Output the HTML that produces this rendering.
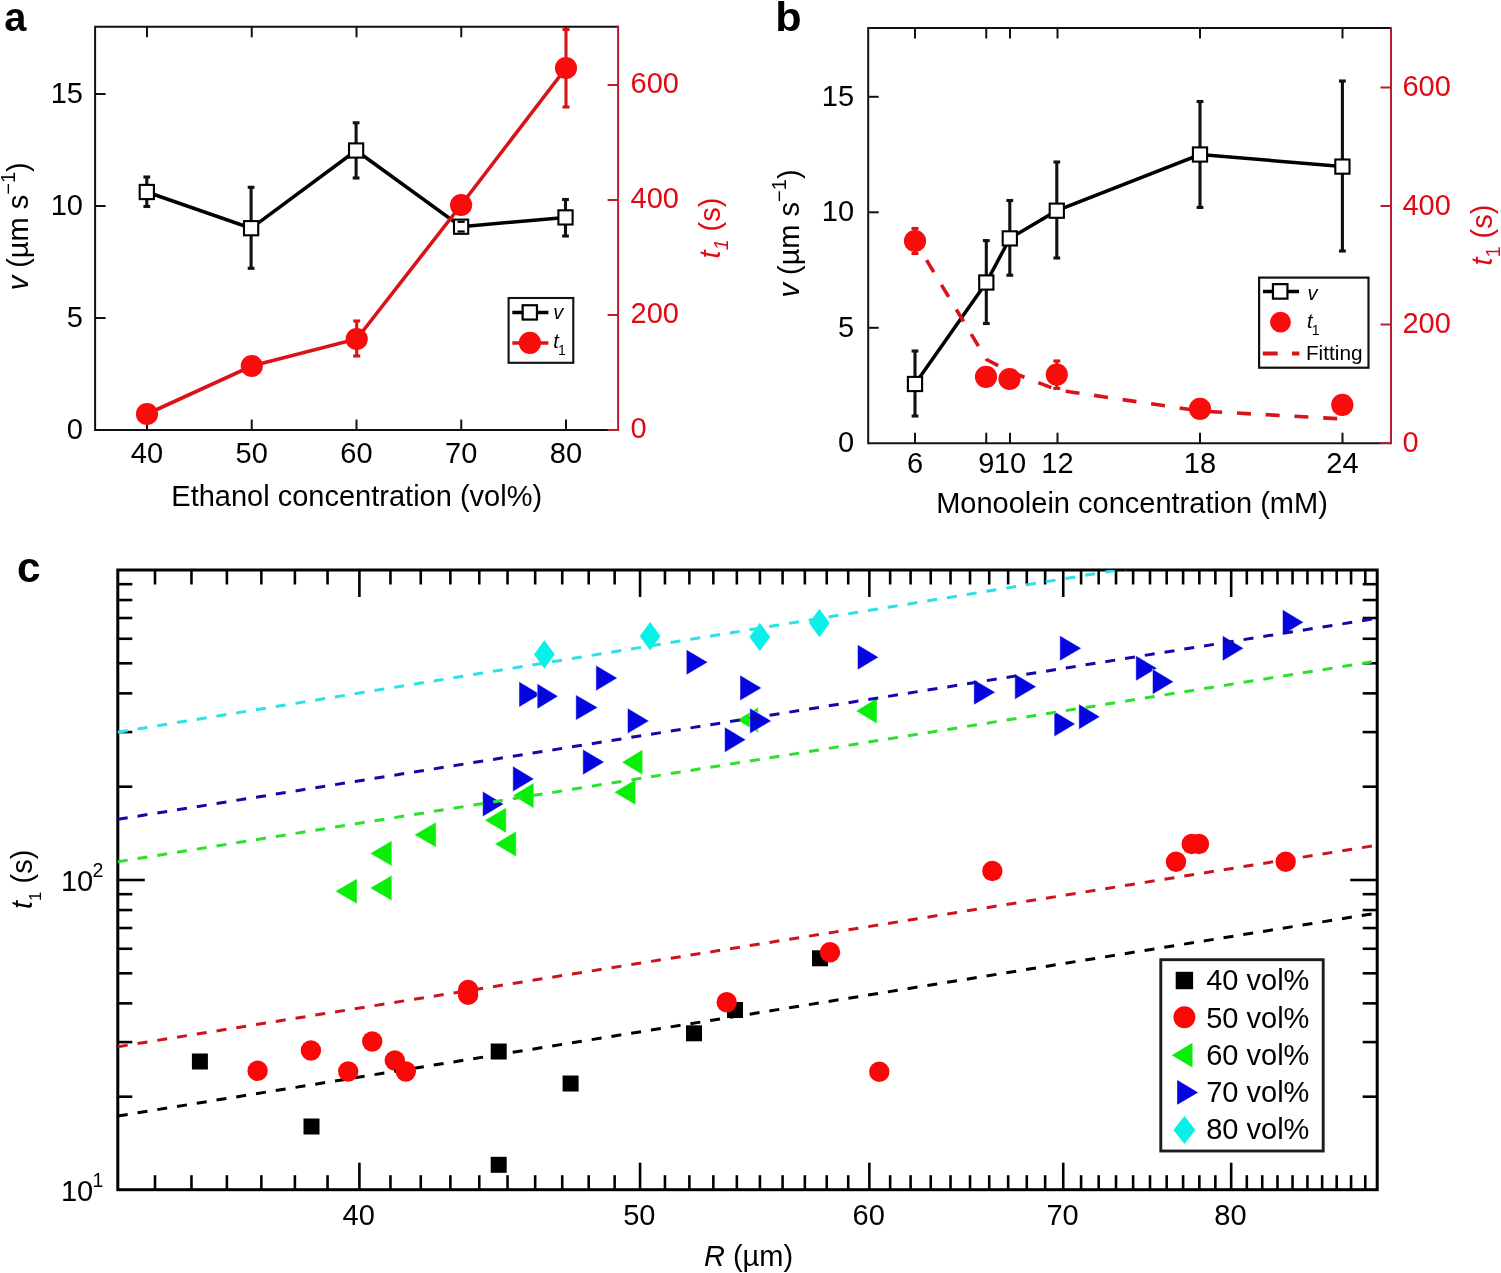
<!DOCTYPE html>
<html lang="en"><head><meta charset="utf-8"><title>Figure</title>
<style>html,body{margin:0;padding:0;background:#fff}svg{display:block}</style></head>
<body>
<svg width="1501" height="1273" viewBox="0 0 1501 1273" font-family='"Liberation Sans", sans-serif'>
<rect width="1501" height="1273" fill="#fff"/>
<path d="M95.1 430.0V26.8H618.1" fill="none" stroke="#111" stroke-width="2.0" stroke-linecap="square"/>
<line x1="95.10" y1="430.00" x2="618.10" y2="430.00" stroke="#111" stroke-width="2.0" />
<line x1="147.00" y1="26.80" x2="147.00" y2="37.30" stroke="#111" stroke-width="2.0" />
<line x1="147.00" y1="430.00" x2="147.00" y2="419.50" stroke="#111" stroke-width="2.0" />
<text x="147.00" y="463.00" font-size="29" text-anchor="middle" fill="#000" >40</text>
<line x1="251.75" y1="26.80" x2="251.75" y2="37.30" stroke="#111" stroke-width="2.0" />
<line x1="251.75" y1="430.00" x2="251.75" y2="419.50" stroke="#111" stroke-width="2.0" />
<text x="251.75" y="463.00" font-size="29" text-anchor="middle" fill="#000" >50</text>
<line x1="356.50" y1="26.80" x2="356.50" y2="37.30" stroke="#111" stroke-width="2.0" />
<line x1="356.50" y1="430.00" x2="356.50" y2="419.50" stroke="#111" stroke-width="2.0" />
<text x="356.50" y="463.00" font-size="29" text-anchor="middle" fill="#000" >60</text>
<line x1="461.25" y1="26.80" x2="461.25" y2="37.30" stroke="#111" stroke-width="2.0" />
<line x1="461.25" y1="430.00" x2="461.25" y2="419.50" stroke="#111" stroke-width="2.0" />
<text x="461.25" y="463.00" font-size="29" text-anchor="middle" fill="#000" >70</text>
<line x1="566.00" y1="26.80" x2="566.00" y2="37.30" stroke="#111" stroke-width="2.0" />
<line x1="566.00" y1="430.00" x2="566.00" y2="419.50" stroke="#111" stroke-width="2.0" />
<text x="566.00" y="463.00" font-size="29" text-anchor="middle" fill="#000" >80</text>
<text x="83.00" y="438.80" font-size="29" text-anchor="end" fill="#000" >0</text>
<line x1="95.10" y1="318.00" x2="105.60" y2="318.00" stroke="#111" stroke-width="2.0" />
<text x="83.00" y="326.80" font-size="29" text-anchor="end" fill="#000" >5</text>
<line x1="95.10" y1="206.00" x2="105.60" y2="206.00" stroke="#111" stroke-width="2.0" />
<text x="83.00" y="214.80" font-size="29" text-anchor="end" fill="#000" >10</text>
<line x1="95.10" y1="94.00" x2="105.60" y2="94.00" stroke="#111" stroke-width="2.0" />
<text x="83.00" y="102.80" font-size="29" text-anchor="end" fill="#000" >15</text>
<line x1="146.80" y1="177.00" x2="146.80" y2="206.50" stroke="#111" stroke-width="3.1" />
<line x1="143.40" y1="177.00" x2="150.20" y2="177.00" stroke="#111" stroke-width="3.1" />
<line x1="143.40" y1="206.50" x2="150.20" y2="206.50" stroke="#111" stroke-width="3.1" />
<line x1="251.10" y1="187.30" x2="251.10" y2="268.30" stroke="#111" stroke-width="3.1" />
<line x1="247.70" y1="187.30" x2="254.50" y2="187.30" stroke="#111" stroke-width="3.1" />
<line x1="247.70" y1="268.30" x2="254.50" y2="268.30" stroke="#111" stroke-width="3.1" />
<line x1="356.10" y1="122.80" x2="356.10" y2="178.00" stroke="#111" stroke-width="3.1" />
<line x1="352.70" y1="122.80" x2="359.50" y2="122.80" stroke="#111" stroke-width="3.1" />
<line x1="352.70" y1="178.00" x2="359.50" y2="178.00" stroke="#111" stroke-width="3.1" />
<line x1="461.10" y1="222.50" x2="461.10" y2="231.50" stroke="#111" stroke-width="3.1" />
<line x1="457.70" y1="222.50" x2="464.50" y2="222.50" stroke="#111" stroke-width="3.1" />
<line x1="457.70" y1="231.50" x2="464.50" y2="231.50" stroke="#111" stroke-width="3.1" />
<line x1="565.50" y1="199.50" x2="565.50" y2="236.00" stroke="#111" stroke-width="3.1" />
<line x1="562.10" y1="199.50" x2="568.90" y2="199.50" stroke="#111" stroke-width="3.1" />
<line x1="562.10" y1="236.00" x2="568.90" y2="236.00" stroke="#111" stroke-width="3.1" />
<polyline points="146.80,192.00 251.10,228.20 356.10,150.50 461.10,226.70 565.50,217.40" fill="none" stroke="#000" stroke-width="3.5" stroke-linejoin="miter" />
<rect x="139.70" y="184.90" width="14.2" height="14.2" fill="#fff" stroke="#000" stroke-width="2.1"/>
<rect x="244.00" y="221.10" width="14.2" height="14.2" fill="#fff" stroke="#000" stroke-width="2.1"/>
<rect x="349.00" y="143.40" width="14.2" height="14.2" fill="#fff" stroke="#000" stroke-width="2.1"/>
<rect x="454.00" y="219.60" width="14.2" height="14.2" fill="#fff" stroke="#000" stroke-width="2.1"/>
<rect x="558.40" y="210.30" width="14.2" height="14.2" fill="#fff" stroke="#000" stroke-width="2.1"/>
<line x1="457.50" y1="221.80" x2="464.70" y2="221.80" stroke="#000" stroke-width="2.2" />
<line x1="457.50" y1="231.50" x2="464.70" y2="231.50" stroke="#000" stroke-width="2.2" />
<line x1="356.70" y1="321.00" x2="356.70" y2="356.00" stroke="#d81418" stroke-width="3.1" />
<line x1="353.20" y1="321.00" x2="360.20" y2="321.00" stroke="#d81418" stroke-width="3.1" />
<line x1="353.20" y1="356.00" x2="360.20" y2="356.00" stroke="#d81418" stroke-width="3.1" />
<line x1="566.00" y1="29.50" x2="566.00" y2="107.00" stroke="#d81418" stroke-width="3.1" />
<line x1="562.50" y1="29.50" x2="569.50" y2="29.50" stroke="#d81418" stroke-width="3.1" />
<line x1="562.50" y1="107.00" x2="569.50" y2="107.00" stroke="#d81418" stroke-width="3.1" />
<polyline points="147.00,414.00 251.80,366.00 356.70,339.00 461.10,205.00 566.00,68.00" fill="none" stroke="#d81418" stroke-width="3.6" stroke-linejoin="miter" />
<circle cx="147.00" cy="414.00" r="11.1" fill="#f80c0c"/>
<circle cx="251.80" cy="366.00" r="11.1" fill="#f80c0c"/>
<circle cx="356.70" cy="339.00" r="11.1" fill="#f80c0c"/>
<circle cx="461.10" cy="205.00" r="11.1" fill="#f80c0c"/>
<circle cx="566.00" cy="68.00" r="11.1" fill="#f80c0c"/>
<line x1="618.10" y1="25.80" x2="618.10" y2="431.00" stroke="#b81e2d" stroke-width="2.0" />
<line x1="607.60" y1="430.00" x2="618.10" y2="430.00" stroke="#b81e2d" stroke-width="2.0" />
<text x="630.60" y="438.30" font-size="29" text-anchor="start" fill="#e10a14" >0</text>
<line x1="607.60" y1="315.00" x2="618.10" y2="315.00" stroke="#b81e2d" stroke-width="2.0" />
<text x="630.60" y="323.30" font-size="29" text-anchor="start" fill="#e10a14" >200</text>
<line x1="607.60" y1="200.00" x2="618.10" y2="200.00" stroke="#b81e2d" stroke-width="2.0" />
<text x="630.60" y="208.30" font-size="29" text-anchor="start" fill="#e10a14" >400</text>
<line x1="607.60" y1="85.00" x2="618.10" y2="85.00" stroke="#b81e2d" stroke-width="2.0" />
<text x="630.60" y="93.30" font-size="29" text-anchor="start" fill="#e10a14" >600</text>
<rect x="508.6" y="298" width="64.7" height="64.8" fill="#fff" stroke="#111" stroke-width="2.1"/>
<line x1="512.30" y1="312.50" x2="548.40" y2="312.50" stroke="#000" stroke-width="3.7" />
<rect x="522.65" y="305.25" width="14.3" height="14.3" fill="#fff" stroke="#000" stroke-width="2.2"/>
<text x="553.30" y="319.20" font-size="20" text-anchor="start" fill="#000" font-style="italic">v</text>
<line x1="512.30" y1="343.00" x2="548.40" y2="343.00" stroke="#d81418" stroke-width="3.7" />
<circle cx="529.90" cy="342.80" r="11.1" fill="#f80c0c"/>
<text x="553.30" y="348.00" font-size="20" text-anchor="start" fill="#000" ><tspan font-style="italic">t</tspan><tspan font-size="14" dy="6.9" dx="-0.8">1</tspan></text>
<text x="356.70" y="506.00" font-size="29" text-anchor="middle" fill="#000" >Ethanol concentration (vol%)</text>
<text transform="translate(28.3 226.3) rotate(-90)" font-size="29" text-anchor="middle" fill="#000"><tspan font-style="italic">v</tspan> (µm s<tspan font-size="20" dy="-13">−1</tspan><tspan dy="13">)</tspan></text>
<text transform="translate(720 228) rotate(-90)" font-size="29" text-anchor="middle" fill="#e10a14"><tspan font-style="italic">t</tspan><tspan font-size="19.5" dy="8" font-style="italic">1</tspan><tspan dy="-8"> (s)</tspan></text>
<text transform="translate(4.3 30.7) scale(0.96 1)" font-size="41.5" font-weight="bold" fill="#000">a</text>
<path d="M868.2 443.2V28.0H1391.0" fill="none" stroke="#111" stroke-width="2.0" stroke-linecap="square"/>
<line x1="868.20" y1="443.20" x2="1391.00" y2="443.20" stroke="#111" stroke-width="2.0" />
<line x1="915.00" y1="28.00" x2="915.00" y2="38.50" stroke="#111" stroke-width="2.0" />
<line x1="915.00" y1="443.20" x2="915.00" y2="432.70" stroke="#111" stroke-width="2.0" />
<text x="915.00" y="473.30" font-size="29" text-anchor="middle" fill="#000" >6</text>
<line x1="986.25" y1="28.00" x2="986.25" y2="38.50" stroke="#111" stroke-width="2.0" />
<line x1="986.25" y1="443.20" x2="986.25" y2="432.70" stroke="#111" stroke-width="2.0" />
<text x="986.25" y="473.30" font-size="29" text-anchor="middle" fill="#000" >9</text>
<line x1="1010.00" y1="28.00" x2="1010.00" y2="38.50" stroke="#111" stroke-width="2.0" />
<line x1="1010.00" y1="443.20" x2="1010.00" y2="432.70" stroke="#111" stroke-width="2.0" />
<text x="1010.00" y="473.30" font-size="29" text-anchor="middle" fill="#000" >10</text>
<line x1="1057.50" y1="28.00" x2="1057.50" y2="38.50" stroke="#111" stroke-width="2.0" />
<line x1="1057.50" y1="443.20" x2="1057.50" y2="432.70" stroke="#111" stroke-width="2.0" />
<text x="1057.50" y="473.30" font-size="29" text-anchor="middle" fill="#000" >12</text>
<line x1="1200.00" y1="28.00" x2="1200.00" y2="38.50" stroke="#111" stroke-width="2.0" />
<line x1="1200.00" y1="443.20" x2="1200.00" y2="432.70" stroke="#111" stroke-width="2.0" />
<text x="1200.00" y="473.30" font-size="29" text-anchor="middle" fill="#000" >18</text>
<line x1="1342.50" y1="28.00" x2="1342.50" y2="38.50" stroke="#111" stroke-width="2.0" />
<line x1="1342.50" y1="443.20" x2="1342.50" y2="432.70" stroke="#111" stroke-width="2.0" />
<text x="1342.50" y="473.30" font-size="29" text-anchor="middle" fill="#000" >24</text>
<text x="854.10" y="452.00" font-size="29" text-anchor="end" fill="#000" >0</text>
<line x1="868.20" y1="327.80" x2="878.70" y2="327.80" stroke="#111" stroke-width="2.0" />
<text x="854.10" y="336.50" font-size="29" text-anchor="end" fill="#000" >5</text>
<line x1="868.20" y1="212.30" x2="878.70" y2="212.30" stroke="#111" stroke-width="2.0" />
<text x="854.10" y="221.00" font-size="29" text-anchor="end" fill="#000" >10</text>
<line x1="868.20" y1="96.80" x2="878.70" y2="96.80" stroke="#111" stroke-width="2.0" />
<text x="854.10" y="105.50" font-size="29" text-anchor="end" fill="#000" >15</text>
<line x1="915.00" y1="351.00" x2="915.00" y2="416.00" stroke="#111" stroke-width="3.1" />
<line x1="911.60" y1="351.00" x2="918.40" y2="351.00" stroke="#111" stroke-width="3.1" />
<line x1="911.60" y1="416.00" x2="918.40" y2="416.00" stroke="#111" stroke-width="3.1" />
<line x1="986.30" y1="240.60" x2="986.30" y2="323.50" stroke="#111" stroke-width="3.1" />
<line x1="982.90" y1="240.60" x2="989.70" y2="240.60" stroke="#111" stroke-width="3.1" />
<line x1="982.90" y1="323.50" x2="989.70" y2="323.50" stroke="#111" stroke-width="3.1" />
<line x1="1009.80" y1="200.50" x2="1009.80" y2="275.20" stroke="#111" stroke-width="3.1" />
<line x1="1006.40" y1="200.50" x2="1013.20" y2="200.50" stroke="#111" stroke-width="3.1" />
<line x1="1006.40" y1="275.20" x2="1013.20" y2="275.20" stroke="#111" stroke-width="3.1" />
<line x1="1056.80" y1="162.00" x2="1056.80" y2="258.00" stroke="#111" stroke-width="3.1" />
<line x1="1053.40" y1="162.00" x2="1060.20" y2="162.00" stroke="#111" stroke-width="3.1" />
<line x1="1053.40" y1="258.00" x2="1060.20" y2="258.00" stroke="#111" stroke-width="3.1" />
<line x1="1200.00" y1="101.50" x2="1200.00" y2="207.40" stroke="#111" stroke-width="3.1" />
<line x1="1196.60" y1="101.50" x2="1203.40" y2="101.50" stroke="#111" stroke-width="3.1" />
<line x1="1196.60" y1="207.40" x2="1203.40" y2="207.40" stroke="#111" stroke-width="3.1" />
<line x1="1342.40" y1="81.00" x2="1342.40" y2="251.00" stroke="#111" stroke-width="3.1" />
<line x1="1339.00" y1="81.00" x2="1345.80" y2="81.00" stroke="#111" stroke-width="3.1" />
<line x1="1339.00" y1="251.00" x2="1345.80" y2="251.00" stroke="#111" stroke-width="3.1" />
<polyline points="915.00,384.00 986.30,282.50 1009.80,238.40 1056.80,210.70 1200.00,154.50 1342.40,166.60" fill="none" stroke="#000" stroke-width="3.5" stroke-linejoin="miter" />
<rect x="907.90" y="376.90" width="14.2" height="14.2" fill="#fff" stroke="#000" stroke-width="2.1"/>
<rect x="979.20" y="275.40" width="14.2" height="14.2" fill="#fff" stroke="#000" stroke-width="2.1"/>
<rect x="1002.70" y="231.30" width="14.2" height="14.2" fill="#fff" stroke="#000" stroke-width="2.1"/>
<rect x="1049.70" y="203.60" width="14.2" height="14.2" fill="#fff" stroke="#000" stroke-width="2.1"/>
<rect x="1192.90" y="147.40" width="14.2" height="14.2" fill="#fff" stroke="#000" stroke-width="2.1"/>
<rect x="1335.30" y="159.50" width="14.2" height="14.2" fill="#fff" stroke="#000" stroke-width="2.1"/>
<polyline points="915.00,241.00 986.50,359.50 1010.00,371.70 1057.50,390.00 1200.00,411.00 1338.60,418.70" fill="none" stroke="#d81418" stroke-width="3.6" stroke-linejoin="miter" stroke-dasharray="14 14.8" stroke-dashoffset="6.4"/>
<line x1="915.00" y1="228.50" x2="915.00" y2="253.50" stroke="#d81418" stroke-width="3.1" />
<line x1="911.50" y1="228.50" x2="918.50" y2="228.50" stroke="#d81418" stroke-width="3.1" />
<line x1="911.50" y1="253.50" x2="918.50" y2="253.50" stroke="#d81418" stroke-width="3.1" />
<line x1="1056.80" y1="361.00" x2="1056.80" y2="388.40" stroke="#d81418" stroke-width="3.1" />
<line x1="1053.30" y1="361.00" x2="1060.30" y2="361.00" stroke="#d81418" stroke-width="3.1" />
<line x1="1053.30" y1="388.40" x2="1060.30" y2="388.40" stroke="#d81418" stroke-width="3.1" />
<circle cx="915.00" cy="241.00" r="11.1" fill="#f80c0c"/>
<circle cx="986.00" cy="376.80" r="11.1" fill="#f80c0c"/>
<circle cx="1009.50" cy="379.00" r="11.1" fill="#f80c0c"/>
<circle cx="1056.80" cy="374.60" r="11.1" fill="#f80c0c"/>
<circle cx="1200.00" cy="408.80" r="11.1" fill="#f80c0c"/>
<circle cx="1342.30" cy="404.90" r="11.1" fill="#f80c0c"/>
<line x1="1391.00" y1="27.00" x2="1391.00" y2="444.20" stroke="#b81e2d" stroke-width="2.0" />
<line x1="1380.50" y1="443.00" x2="1391.00" y2="443.00" stroke="#b81e2d" stroke-width="2.0" />
<text x="1402.40" y="451.80" font-size="29" text-anchor="start" fill="#e10a14" >0</text>
<line x1="1380.50" y1="324.50" x2="1391.00" y2="324.50" stroke="#b81e2d" stroke-width="2.0" />
<text x="1402.40" y="333.30" font-size="29" text-anchor="start" fill="#e10a14" >200</text>
<line x1="1380.50" y1="206.00" x2="1391.00" y2="206.00" stroke="#b81e2d" stroke-width="2.0" />
<text x="1402.40" y="214.80" font-size="29" text-anchor="start" fill="#e10a14" >400</text>
<line x1="1380.50" y1="87.50" x2="1391.00" y2="87.50" stroke="#b81e2d" stroke-width="2.0" />
<text x="1402.40" y="96.30" font-size="29" text-anchor="start" fill="#e10a14" >600</text>
<rect x="1259.1" y="277.6" width="109.4" height="90.1" fill="#fff" stroke="#111" stroke-width="2.2"/>
<line x1="1262.90" y1="291.50" x2="1299.00" y2="291.50" stroke="#000" stroke-width="3.7" />
<rect x="1272.95" y="284.15" width="14.5" height="14.5" fill="#fff" stroke="#000" stroke-width="2.2"/>
<text x="1307.40" y="300.10" font-size="20" text-anchor="start" fill="#000" font-style="italic">v</text>
<circle cx="1280.50" cy="322.20" r="10.4" fill="#f80c0c"/>
<text x="1307.00" y="328.10" font-size="20" text-anchor="start" fill="#000" ><tspan font-style="italic">t</tspan><tspan font-size="14" dy="6.8" dx="-0.8">1</tspan></text>
<line x1="1262.80" y1="353.50" x2="1299.40" y2="353.50" stroke="#d81418" stroke-width="4.1" stroke-dasharray="14.9 14.3"/>
<text x="1305.90" y="359.60" font-size="20.8" text-anchor="start" fill="#000" >Fitting</text>
<text x="1132.00" y="512.50" font-size="29" text-anchor="middle" fill="#000" >Monoolein concentration (mM)</text>
<text transform="translate(799 233.5) rotate(-90)" font-size="29" text-anchor="middle" fill="#000"><tspan font-style="italic">v</tspan> (µm s<tspan font-size="20" dy="-13">−1</tspan><tspan dy="13">)</tspan></text>
<text transform="translate(1492.3 235) rotate(-90)" font-size="29" text-anchor="middle" fill="#e10a14"><tspan font-style="italic">t</tspan><tspan font-size="19.5" dy="8">1</tspan><tspan dy="-8"> (s)</tspan></text>
<text transform="translate(775.2 30.6) scale(1.08 1)" font-size="40" font-weight="bold" fill="#000">b</text>
<rect x="117.8" y="570.0" width="1259.4" height="619.7" fill="none" stroke="#000" stroke-width="3.0"/>
<line x1="155.00" y1="570.00" x2="155.00" y2="584.50" stroke="#000" stroke-width="2.6" />
<line x1="155.00" y1="1189.70" x2="155.00" y2="1175.20" stroke="#000" stroke-width="2.6" />
<line x1="191.46" y1="570.00" x2="191.46" y2="584.50" stroke="#000" stroke-width="2.6" />
<line x1="191.46" y1="1189.70" x2="191.46" y2="1175.20" stroke="#000" stroke-width="2.6" />
<line x1="226.89" y1="570.00" x2="226.89" y2="584.50" stroke="#000" stroke-width="2.6" />
<line x1="226.89" y1="1189.70" x2="226.89" y2="1175.20" stroke="#000" stroke-width="2.6" />
<line x1="261.35" y1="570.00" x2="261.35" y2="584.50" stroke="#000" stroke-width="2.6" />
<line x1="261.35" y1="1189.70" x2="261.35" y2="1175.20" stroke="#000" stroke-width="2.6" />
<line x1="294.89" y1="570.00" x2="294.89" y2="584.50" stroke="#000" stroke-width="2.6" />
<line x1="294.89" y1="1189.70" x2="294.89" y2="1175.20" stroke="#000" stroke-width="2.6" />
<line x1="327.56" y1="570.00" x2="327.56" y2="584.50" stroke="#000" stroke-width="2.6" />
<line x1="327.56" y1="1189.70" x2="327.56" y2="1175.20" stroke="#000" stroke-width="2.6" />
<line x1="359.40" y1="570.00" x2="359.40" y2="597.00" stroke="#000" stroke-width="2.6" />
<line x1="359.40" y1="1189.70" x2="359.40" y2="1162.70" stroke="#000" stroke-width="2.6" />
<line x1="390.46" y1="570.00" x2="390.46" y2="584.50" stroke="#000" stroke-width="2.6" />
<line x1="390.46" y1="1189.70" x2="390.46" y2="1175.20" stroke="#000" stroke-width="2.6" />
<line x1="420.76" y1="570.00" x2="420.76" y2="584.50" stroke="#000" stroke-width="2.6" />
<line x1="420.76" y1="1189.70" x2="420.76" y2="1175.20" stroke="#000" stroke-width="2.6" />
<line x1="450.36" y1="570.00" x2="450.36" y2="584.50" stroke="#000" stroke-width="2.6" />
<line x1="450.36" y1="1189.70" x2="450.36" y2="1175.20" stroke="#000" stroke-width="2.6" />
<line x1="479.27" y1="570.00" x2="479.27" y2="584.50" stroke="#000" stroke-width="2.6" />
<line x1="479.27" y1="1189.70" x2="479.27" y2="1175.20" stroke="#000" stroke-width="2.6" />
<line x1="507.54" y1="570.00" x2="507.54" y2="584.50" stroke="#000" stroke-width="2.6" />
<line x1="507.54" y1="1189.70" x2="507.54" y2="1175.20" stroke="#000" stroke-width="2.6" />
<line x1="535.18" y1="570.00" x2="535.18" y2="584.50" stroke="#000" stroke-width="2.6" />
<line x1="535.18" y1="1189.70" x2="535.18" y2="1175.20" stroke="#000" stroke-width="2.6" />
<line x1="562.23" y1="570.00" x2="562.23" y2="584.50" stroke="#000" stroke-width="2.6" />
<line x1="562.23" y1="1189.70" x2="562.23" y2="1175.20" stroke="#000" stroke-width="2.6" />
<line x1="588.71" y1="570.00" x2="588.71" y2="584.50" stroke="#000" stroke-width="2.6" />
<line x1="588.71" y1="1189.70" x2="588.71" y2="1175.20" stroke="#000" stroke-width="2.6" />
<line x1="614.64" y1="570.00" x2="614.64" y2="584.50" stroke="#000" stroke-width="2.6" />
<line x1="614.64" y1="1189.70" x2="614.64" y2="1175.20" stroke="#000" stroke-width="2.6" />
<line x1="640.05" y1="570.00" x2="640.05" y2="597.00" stroke="#000" stroke-width="2.6" />
<line x1="640.05" y1="1189.70" x2="640.05" y2="1162.70" stroke="#000" stroke-width="2.6" />
<line x1="664.96" y1="570.00" x2="664.96" y2="584.50" stroke="#000" stroke-width="2.6" />
<line x1="664.96" y1="1189.70" x2="664.96" y2="1175.20" stroke="#000" stroke-width="2.6" />
<line x1="689.38" y1="570.00" x2="689.38" y2="584.50" stroke="#000" stroke-width="2.6" />
<line x1="689.38" y1="1189.70" x2="689.38" y2="1175.20" stroke="#000" stroke-width="2.6" />
<line x1="713.34" y1="570.00" x2="713.34" y2="584.50" stroke="#000" stroke-width="2.6" />
<line x1="713.34" y1="1189.70" x2="713.34" y2="1175.20" stroke="#000" stroke-width="2.6" />
<line x1="736.85" y1="570.00" x2="736.85" y2="584.50" stroke="#000" stroke-width="2.6" />
<line x1="736.85" y1="1189.70" x2="736.85" y2="1175.20" stroke="#000" stroke-width="2.6" />
<line x1="759.92" y1="570.00" x2="759.92" y2="584.50" stroke="#000" stroke-width="2.6" />
<line x1="759.92" y1="1189.70" x2="759.92" y2="1175.20" stroke="#000" stroke-width="2.6" />
<line x1="782.59" y1="570.00" x2="782.59" y2="584.50" stroke="#000" stroke-width="2.6" />
<line x1="782.59" y1="1189.70" x2="782.59" y2="1175.20" stroke="#000" stroke-width="2.6" />
<line x1="804.85" y1="570.00" x2="804.85" y2="584.50" stroke="#000" stroke-width="2.6" />
<line x1="804.85" y1="1189.70" x2="804.85" y2="1175.20" stroke="#000" stroke-width="2.6" />
<line x1="826.72" y1="570.00" x2="826.72" y2="584.50" stroke="#000" stroke-width="2.6" />
<line x1="826.72" y1="1189.70" x2="826.72" y2="1175.20" stroke="#000" stroke-width="2.6" />
<line x1="848.22" y1="570.00" x2="848.22" y2="584.50" stroke="#000" stroke-width="2.6" />
<line x1="848.22" y1="1189.70" x2="848.22" y2="1175.20" stroke="#000" stroke-width="2.6" />
<line x1="869.36" y1="570.00" x2="869.36" y2="597.00" stroke="#000" stroke-width="2.6" />
<line x1="869.36" y1="1189.70" x2="869.36" y2="1162.70" stroke="#000" stroke-width="2.6" />
<line x1="890.15" y1="570.00" x2="890.15" y2="584.50" stroke="#000" stroke-width="2.6" />
<line x1="890.15" y1="1189.70" x2="890.15" y2="1175.20" stroke="#000" stroke-width="2.6" />
<line x1="910.60" y1="570.00" x2="910.60" y2="584.50" stroke="#000" stroke-width="2.6" />
<line x1="910.60" y1="1189.70" x2="910.60" y2="1175.20" stroke="#000" stroke-width="2.6" />
<line x1="930.72" y1="570.00" x2="930.72" y2="584.50" stroke="#000" stroke-width="2.6" />
<line x1="930.72" y1="1189.70" x2="930.72" y2="1175.20" stroke="#000" stroke-width="2.6" />
<line x1="950.53" y1="570.00" x2="950.53" y2="584.50" stroke="#000" stroke-width="2.6" />
<line x1="950.53" y1="1189.70" x2="950.53" y2="1175.20" stroke="#000" stroke-width="2.6" />
<line x1="970.03" y1="570.00" x2="970.03" y2="584.50" stroke="#000" stroke-width="2.6" />
<line x1="970.03" y1="1189.70" x2="970.03" y2="1175.20" stroke="#000" stroke-width="2.6" />
<line x1="989.23" y1="570.00" x2="989.23" y2="584.50" stroke="#000" stroke-width="2.6" />
<line x1="989.23" y1="1189.70" x2="989.23" y2="1175.20" stroke="#000" stroke-width="2.6" />
<line x1="1008.15" y1="570.00" x2="1008.15" y2="584.50" stroke="#000" stroke-width="2.6" />
<line x1="1008.15" y1="1189.70" x2="1008.15" y2="1175.20" stroke="#000" stroke-width="2.6" />
<line x1="1026.78" y1="570.00" x2="1026.78" y2="584.50" stroke="#000" stroke-width="2.6" />
<line x1="1026.78" y1="1189.70" x2="1026.78" y2="1175.20" stroke="#000" stroke-width="2.6" />
<line x1="1045.14" y1="570.00" x2="1045.14" y2="584.50" stroke="#000" stroke-width="2.6" />
<line x1="1045.14" y1="1189.70" x2="1045.14" y2="1175.20" stroke="#000" stroke-width="2.6" />
<line x1="1063.24" y1="570.00" x2="1063.24" y2="597.00" stroke="#000" stroke-width="2.6" />
<line x1="1063.24" y1="1189.70" x2="1063.24" y2="1162.70" stroke="#000" stroke-width="2.6" />
<line x1="1081.08" y1="570.00" x2="1081.08" y2="584.50" stroke="#000" stroke-width="2.6" />
<line x1="1081.08" y1="1189.70" x2="1081.08" y2="1175.20" stroke="#000" stroke-width="2.6" />
<line x1="1098.67" y1="570.00" x2="1098.67" y2="584.50" stroke="#000" stroke-width="2.6" />
<line x1="1098.67" y1="1189.70" x2="1098.67" y2="1175.20" stroke="#000" stroke-width="2.6" />
<line x1="1116.02" y1="570.00" x2="1116.02" y2="584.50" stroke="#000" stroke-width="2.6" />
<line x1="1116.02" y1="1189.70" x2="1116.02" y2="1175.20" stroke="#000" stroke-width="2.6" />
<line x1="1133.13" y1="570.00" x2="1133.13" y2="584.50" stroke="#000" stroke-width="2.6" />
<line x1="1133.13" y1="1189.70" x2="1133.13" y2="1175.20" stroke="#000" stroke-width="2.6" />
<line x1="1150.01" y1="570.00" x2="1150.01" y2="584.50" stroke="#000" stroke-width="2.6" />
<line x1="1150.01" y1="1189.70" x2="1150.01" y2="1175.20" stroke="#000" stroke-width="2.6" />
<line x1="1166.67" y1="570.00" x2="1166.67" y2="584.50" stroke="#000" stroke-width="2.6" />
<line x1="1166.67" y1="1189.70" x2="1166.67" y2="1175.20" stroke="#000" stroke-width="2.6" />
<line x1="1183.11" y1="570.00" x2="1183.11" y2="584.50" stroke="#000" stroke-width="2.6" />
<line x1="1183.11" y1="1189.70" x2="1183.11" y2="1175.20" stroke="#000" stroke-width="2.6" />
<line x1="1199.34" y1="570.00" x2="1199.34" y2="584.50" stroke="#000" stroke-width="2.6" />
<line x1="1199.34" y1="1189.70" x2="1199.34" y2="1175.20" stroke="#000" stroke-width="2.6" />
<line x1="1215.36" y1="570.00" x2="1215.36" y2="584.50" stroke="#000" stroke-width="2.6" />
<line x1="1215.36" y1="1189.70" x2="1215.36" y2="1175.20" stroke="#000" stroke-width="2.6" />
<line x1="1231.18" y1="570.00" x2="1231.18" y2="597.00" stroke="#000" stroke-width="2.6" />
<line x1="1231.18" y1="1189.70" x2="1231.18" y2="1162.70" stroke="#000" stroke-width="2.6" />
<line x1="1246.81" y1="570.00" x2="1246.81" y2="584.50" stroke="#000" stroke-width="2.6" />
<line x1="1246.81" y1="1189.70" x2="1246.81" y2="1175.20" stroke="#000" stroke-width="2.6" />
<line x1="1262.24" y1="570.00" x2="1262.24" y2="584.50" stroke="#000" stroke-width="2.6" />
<line x1="1262.24" y1="1189.70" x2="1262.24" y2="1175.20" stroke="#000" stroke-width="2.6" />
<line x1="1277.48" y1="570.00" x2="1277.48" y2="584.50" stroke="#000" stroke-width="2.6" />
<line x1="1277.48" y1="1189.70" x2="1277.48" y2="1175.20" stroke="#000" stroke-width="2.6" />
<line x1="1292.55" y1="570.00" x2="1292.55" y2="584.50" stroke="#000" stroke-width="2.6" />
<line x1="1292.55" y1="1189.70" x2="1292.55" y2="1175.20" stroke="#000" stroke-width="2.6" />
<line x1="1307.43" y1="570.00" x2="1307.43" y2="584.50" stroke="#000" stroke-width="2.6" />
<line x1="1307.43" y1="1189.70" x2="1307.43" y2="1175.20" stroke="#000" stroke-width="2.6" />
<line x1="1322.14" y1="570.00" x2="1322.14" y2="584.50" stroke="#000" stroke-width="2.6" />
<line x1="1322.14" y1="1189.70" x2="1322.14" y2="1175.20" stroke="#000" stroke-width="2.6" />
<line x1="1336.68" y1="570.00" x2="1336.68" y2="584.50" stroke="#000" stroke-width="2.6" />
<line x1="1336.68" y1="1189.70" x2="1336.68" y2="1175.20" stroke="#000" stroke-width="2.6" />
<line x1="1351.06" y1="570.00" x2="1351.06" y2="584.50" stroke="#000" stroke-width="2.6" />
<line x1="1351.06" y1="1189.70" x2="1351.06" y2="1175.20" stroke="#000" stroke-width="2.6" />
<line x1="1365.27" y1="570.00" x2="1365.27" y2="584.50" stroke="#000" stroke-width="2.6" />
<line x1="1365.27" y1="1189.70" x2="1365.27" y2="1175.20" stroke="#000" stroke-width="2.6" />
<line x1="117.80" y1="1096.68" x2="132.30" y2="1096.68" stroke="#000" stroke-width="2.6" />
<line x1="1377.20" y1="1096.68" x2="1362.70" y2="1096.68" stroke="#000" stroke-width="2.6" />
<line x1="117.80" y1="1042.09" x2="132.30" y2="1042.09" stroke="#000" stroke-width="2.6" />
<line x1="1377.20" y1="1042.09" x2="1362.70" y2="1042.09" stroke="#000" stroke-width="2.6" />
<line x1="117.80" y1="1003.36" x2="132.30" y2="1003.36" stroke="#000" stroke-width="2.6" />
<line x1="1377.20" y1="1003.36" x2="1362.70" y2="1003.36" stroke="#000" stroke-width="2.6" />
<line x1="117.80" y1="973.32" x2="132.30" y2="973.32" stroke="#000" stroke-width="2.6" />
<line x1="1377.20" y1="973.32" x2="1362.70" y2="973.32" stroke="#000" stroke-width="2.6" />
<line x1="117.80" y1="948.77" x2="132.30" y2="948.77" stroke="#000" stroke-width="2.6" />
<line x1="1377.20" y1="948.77" x2="1362.70" y2="948.77" stroke="#000" stroke-width="2.6" />
<line x1="117.80" y1="928.02" x2="132.30" y2="928.02" stroke="#000" stroke-width="2.6" />
<line x1="1377.20" y1="928.02" x2="1362.70" y2="928.02" stroke="#000" stroke-width="2.6" />
<line x1="117.80" y1="910.04" x2="132.30" y2="910.04" stroke="#000" stroke-width="2.6" />
<line x1="1377.20" y1="910.04" x2="1362.70" y2="910.04" stroke="#000" stroke-width="2.6" />
<line x1="117.80" y1="894.18" x2="132.30" y2="894.18" stroke="#000" stroke-width="2.6" />
<line x1="1377.20" y1="894.18" x2="1362.70" y2="894.18" stroke="#000" stroke-width="2.6" />
<line x1="117.80" y1="880.00" x2="144.80" y2="880.00" stroke="#000" stroke-width="2.6" />
<line x1="1377.20" y1="880.00" x2="1350.20" y2="880.00" stroke="#000" stroke-width="2.6" />
<line x1="117.80" y1="786.68" x2="132.30" y2="786.68" stroke="#000" stroke-width="2.6" />
<line x1="1377.20" y1="786.68" x2="1362.70" y2="786.68" stroke="#000" stroke-width="2.6" />
<line x1="117.80" y1="732.09" x2="132.30" y2="732.09" stroke="#000" stroke-width="2.6" />
<line x1="1377.20" y1="732.09" x2="1362.70" y2="732.09" stroke="#000" stroke-width="2.6" />
<line x1="117.80" y1="693.36" x2="132.30" y2="693.36" stroke="#000" stroke-width="2.6" />
<line x1="1377.20" y1="693.36" x2="1362.70" y2="693.36" stroke="#000" stroke-width="2.6" />
<line x1="117.80" y1="663.32" x2="132.30" y2="663.32" stroke="#000" stroke-width="2.6" />
<line x1="1377.20" y1="663.32" x2="1362.70" y2="663.32" stroke="#000" stroke-width="2.6" />
<line x1="117.80" y1="638.77" x2="132.30" y2="638.77" stroke="#000" stroke-width="2.6" />
<line x1="1377.20" y1="638.77" x2="1362.70" y2="638.77" stroke="#000" stroke-width="2.6" />
<line x1="117.80" y1="618.02" x2="132.30" y2="618.02" stroke="#000" stroke-width="2.6" />
<line x1="1377.20" y1="618.02" x2="1362.70" y2="618.02" stroke="#000" stroke-width="2.6" />
<line x1="117.80" y1="600.04" x2="132.30" y2="600.04" stroke="#000" stroke-width="2.6" />
<line x1="1377.20" y1="600.04" x2="1362.70" y2="600.04" stroke="#000" stroke-width="2.6" />
<line x1="117.80" y1="584.18" x2="132.30" y2="584.18" stroke="#000" stroke-width="2.6" />
<line x1="1377.20" y1="584.18" x2="1362.70" y2="584.18" stroke="#000" stroke-width="2.6" />
<rect x="191.9" y="1053.5" width="16" height="16" fill="#000"/>
<rect x="303.5" y="1118.5" width="16" height="16" fill="#000"/>
<rect x="490.7" y="1043.5" width="16" height="16" fill="#000"/>
<rect x="490.7" y="1156.8" width="16" height="16" fill="#000"/>
<rect x="562.6" y="1075.5" width="16" height="16" fill="#000"/>
<rect x="686.0" y="1025.3" width="16" height="16" fill="#000"/>
<rect x="727.0" y="1002.0" width="16" height="16" fill="#000"/>
<rect x="812.0" y="950.3" width="16" height="16" fill="#000"/>
<circle cx="394.8" cy="1060.5" r="10.2" fill="#fa0808"/>
<polygon points="335.20000000000005,891.3 357.09999999999997,878.5 357.09999999999997,904.0999999999999" fill="#08ee08" stroke="#fff" stroke-width="0.5"/>
<polygon points="370.0,888 391.9,875.2 391.9,900.8" fill="#08ee08" stroke="#fff" stroke-width="0.5"/>
<polygon points="370.0,853.4 391.9,840.6 391.9,866.1999999999999" fill="#08ee08" stroke="#fff" stroke-width="0.5"/>
<polygon points="414.3,834.8 436.09999999999997,822.0 436.09999999999997,847.5999999999999" fill="#08ee08" stroke="#fff" stroke-width="0.5"/>
<polygon points="484.6,820.3 506.2,807.5 506.2,833.0999999999999" fill="#08ee08" stroke="#fff" stroke-width="0.5"/>
<polygon points="494.70000000000005,844 516.2,831.2 516.2,856.8" fill="#08ee08" stroke="#fff" stroke-width="0.5"/>
<polygon points="512.7,795.6 533.8000000000001,782.8000000000001 533.8000000000001,808.4" fill="#08ee08" stroke="#fff" stroke-width="0.5"/>
<polygon points="614.1,792.2 635.6,779.4000000000001 635.6,805.0" fill="#08ee08" stroke="#fff" stroke-width="0.5"/>
<polygon points="621.8000000000001,762.2 642.7,749.4000000000001 642.7,775.0" fill="#08ee08" stroke="#fff" stroke-width="0.5"/>
<polygon points="737.0,720 758.2,707.2 758.2,732.8" fill="#08ee08" stroke="#fff" stroke-width="0.5"/>
<polygon points="855.9,710.9 877.0,698.1 877.0,723.6999999999999" fill="#08ee08" stroke="#fff" stroke-width="0.5"/>
<polygon points="540.6,694.4 519.0,681.6 519.0,707.1999999999999" fill="#0505e0" stroke="#fff" stroke-width="0.5"/>
<polygon points="558.1999999999999,696.3 537.1999999999999,683.5 537.1999999999999,709.0999999999999" fill="#0505e0" stroke="#fff" stroke-width="0.5"/>
<polygon points="617.5,678.1 595.9,665.3000000000001 595.9,690.9" fill="#0505e0" stroke="#fff" stroke-width="0.5"/>
<polygon points="597.9,707.5 575.8,694.7 575.8,720.3" fill="#0505e0" stroke="#fff" stroke-width="0.5"/>
<polygon points="649.1,720.9 627.5,708.1 627.5,733.6999999999999" fill="#0505e0" stroke="#fff" stroke-width="0.5"/>
<polygon points="707.9,662.2 686.3,649.4000000000001 686.3,675.0" fill="#0505e0" stroke="#fff" stroke-width="0.5"/>
<polygon points="761.6,687.9 740.0,675.1 740.0,700.6999999999999" fill="#0505e0" stroke="#fff" stroke-width="0.5"/>
<polygon points="771.4,720.9 749.8,708.1 749.8,733.6999999999999" fill="#0505e0" stroke="#fff" stroke-width="0.5"/>
<polygon points="745.9,739.7 724.5999999999999,726.9000000000001 724.5999999999999,752.5" fill="#0505e0" stroke="#fff" stroke-width="0.5"/>
<polygon points="604.4,762.1 582.8,749.3000000000001 582.8,774.9" fill="#0505e0" stroke="#fff" stroke-width="0.5"/>
<polygon points="534.1,778.9 512.8,766.1 512.8,791.6999999999999" fill="#0505e0" stroke="#fff" stroke-width="0.5"/>
<polygon points="503.79999999999995,804 482.6,791.2 482.6,816.8" fill="#0505e0" stroke="#fff" stroke-width="0.5"/>
<polygon points="878.6,657.2 857.5,644.4000000000001 857.5,670.0" fill="#0505e0" stroke="#fff" stroke-width="0.5"/>
<polygon points="995.4,692.3 973.8,679.5 973.8,705.0999999999999" fill="#0505e0" stroke="#fff" stroke-width="0.5"/>
<polygon points="1036.4,686.7 1014.8,673.9000000000001 1014.8,699.5" fill="#0505e0" stroke="#fff" stroke-width="0.5"/>
<polygon points="1081.4,648.3 1059.8,635.5 1059.8,661.0999999999999" fill="#0505e0" stroke="#fff" stroke-width="0.5"/>
<polygon points="1075.4,724 1054.1,711.2 1054.1,736.8" fill="#0505e0" stroke="#fff" stroke-width="0.5"/>
<polygon points="1100.0,716.7 1078.8,703.9000000000001 1078.8,729.5" fill="#0505e0" stroke="#fff" stroke-width="0.5"/>
<polygon points="1157.1000000000001,668.3 1135.8,655.5 1135.8,681.0999999999999" fill="#0505e0" stroke="#fff" stroke-width="0.5"/>
<polygon points="1173.7,681.7 1152.5,668.9000000000001 1152.5,694.5" fill="#0505e0" stroke="#fff" stroke-width="0.5"/>
<polygon points="1243.7,648.3 1222.5,635.5 1222.5,661.0999999999999" fill="#0505e0" stroke="#fff" stroke-width="0.5"/>
<polygon points="1303.7,622.3 1282.5,609.5 1282.5,635.0999999999999" fill="#0505e0" stroke="#fff" stroke-width="0.5"/>
<polygon points="533.8,654.4 544.4,639.8 555.0,654.4 544.4,669.0" fill="#08f0e8" stroke="#fff" stroke-width="0.5"/>
<polygon points="639.5,636.2 650.1,621.6 660.7,636.2 650.1,650.8000000000001" fill="#08f0e8" stroke="#fff" stroke-width="0.5"/>
<polygon points="749.1999999999999,637 759.8,622.4 770.4,637 759.8,651.6" fill="#08f0e8" stroke="#fff" stroke-width="0.5"/>
<polygon points="808.8,623 819.4,608.4 830.0,623 819.4,637.6" fill="#08f0e8" stroke="#fff" stroke-width="0.5"/>
<clipPath id="cc"><rect x="116.3" y="570.0" width="1260.9" height="619.7"/></clipPath>
<line x1="117.8" y1="1116.0" x2="1377.2" y2="913.0" stroke="#000" stroke-width="3" stroke-dasharray="10 10" clip-path="url(#cc)"/>
<line x1="117.8" y1="1046.7" x2="1377.2" y2="845.2" stroke="#cc1420" stroke-width="3" stroke-dasharray="10 10" clip-path="url(#cc)"/>
<line x1="117.8" y1="861.7" x2="1377.2" y2="661" stroke="#2ee02e" stroke-width="3" stroke-dasharray="10 10" clip-path="url(#cc)"/>
<line x1="117.8" y1="819.3" x2="1377.2" y2="618.3" stroke="#1408a8" stroke-width="3" stroke-dasharray="10 10" clip-path="url(#cc)"/>
<line x1="117.8" y1="732.2" x2="1377.2" y2="527.9832129963899" stroke="#2de0e4" stroke-width="3" stroke-dasharray="10 10" clip-path="url(#cc)"/>
<circle cx="257.6" cy="1070.8" r="10.2" fill="#fa0808"/>
<circle cx="310.9" cy="1050.5" r="10.2" fill="#fa0808"/>
<circle cx="348.2" cy="1071.5" r="10.2" fill="#fa0808"/>
<circle cx="372.2" cy="1041.5" r="10.2" fill="#fa0808"/>
<circle cx="405.8" cy="1071.5" r="10.2" fill="#fa0808"/>
<circle cx="468.1" cy="989.9" r="10.2" fill="#fa0808"/>
<circle cx="468.1" cy="994.9" r="10.2" fill="#fa0808"/>
<circle cx="726.7" cy="1002.3" r="10.2" fill="#fa0808"/>
<circle cx="830" cy="952.3" r="10.2" fill="#fa0808"/>
<circle cx="879.3" cy="1071.7" r="10.2" fill="#fa0808"/>
<circle cx="992.3" cy="871" r="10.2" fill="#fa0808"/>
<circle cx="1176" cy="861.7" r="10.2" fill="#fa0808"/>
<circle cx="1191.7" cy="844" r="10.2" fill="#fa0808"/>
<circle cx="1199" cy="844" r="10.2" fill="#fa0808"/>
<circle cx="1285.7" cy="861.7" r="10.2" fill="#fa0808"/>
<text x="358.70" y="1224.60" font-size="29" text-anchor="middle" fill="#000" >40</text>
<text x="639.35" y="1224.60" font-size="29" text-anchor="middle" fill="#000" >50</text>
<text x="868.66" y="1224.60" font-size="29" text-anchor="middle" fill="#000" >60</text>
<text x="1062.54" y="1224.60" font-size="29" text-anchor="middle" fill="#000" >70</text>
<text x="1230.48" y="1224.60" font-size="29" text-anchor="middle" fill="#000" >80</text>
<text x="93.20" y="890.60" font-size="29" text-anchor="end" fill="#000" >10</text>
<text x="92.60" y="877.20" font-size="19.5" text-anchor="start" fill="#000" >2</text>
<text x="93.20" y="1200.70" font-size="29" text-anchor="end" fill="#000" >10</text>
<text x="92.60" y="1187.20" font-size="19.5" text-anchor="start" fill="#000" >1</text>
<text x="748.50" y="1266.00" font-size="29" text-anchor="middle" fill="#000" ><tspan font-style="italic">R</tspan> (µm)</text>
<text transform="translate(32.2 879.3) rotate(-90)" font-size="29" text-anchor="middle" fill="#000"><tspan font-style="italic">t</tspan><tspan font-size="17" dy="8.5">1</tspan><tspan dy="-8.5"> (s)</tspan></text>
<text transform="translate(17.1 581.9) scale(1.01 1)" font-size="42" font-weight="bold" fill="#000">c</text>
<rect x="1160.8" y="959.7" width="162.4" height="191.3" fill="#fff" stroke="#1c1c1c" stroke-width="2.9"/>
<rect x="1175.7" y="971.8" width="17.4" height="17.4" fill="#000"/>
<circle cx="1184.4" cy="1017.2" r="11" fill="#fa0808"/>
<polygon points="1171.8,1055.2 1192.5,1042.8 1192.5,1067.6000000000001" fill="#08ee08"/>
<polygon points="1198.1,1092.4 1177.2,1080.0 1177.2,1104.8000000000002" fill="#0505e0"/>
<polygon points="1173.4,1130 1184.4,1116 1195.4,1130 1184.4,1144" fill="#08f0e8"/>
<text x="1206.20" y="990.40" font-size="29" text-anchor="start" fill="#000" >40 vol%</text>
<text x="1206.20" y="1027.55" font-size="29" text-anchor="start" fill="#000" >50 vol%</text>
<text x="1206.20" y="1064.70" font-size="29" text-anchor="start" fill="#000" >60 vol%</text>
<text x="1206.20" y="1101.85" font-size="29" text-anchor="start" fill="#000" >70 vol%</text>
<text x="1206.20" y="1139.00" font-size="29" text-anchor="start" fill="#000" >80 vol%</text>
</svg>
</body></html>
